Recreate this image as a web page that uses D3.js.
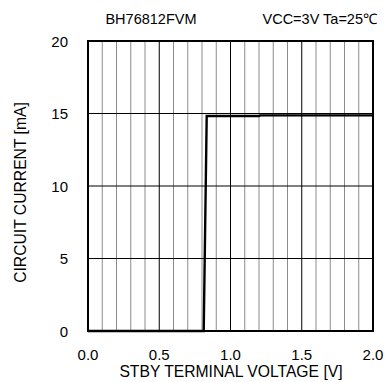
<!DOCTYPE html>
<html>
<head>
<meta charset="utf-8" />
<title>BH76812FVM</title>
<script src="https://d3js.org/d3.v7.min.js"></script>
<style>
  body { margin: 0; background: #fff; }
  text { font-family: "Liberation Sans", Arial, sans-serif; fill: #000; }
</style>
</head>
<body>
<svg id="mysvg" width="387" height="382"></svg>
<script>
// readings
var voltage = [0.0, 0.812, 0.833, 1.2, 1.21, 2.0];
var current = [0.0, 0.0, 14.83, 14.83, 14.87, 14.87];
var xTicks = [0.0, 0.5, 1.0, 1.5, 2.0];
var yTicks = [0, 5, 10, 15, 20];

var svg = d3.select("#mysvg");
var x = d3.scaleLinear().domain([0, 2]).range([88, 373]);
var y = d3.scaleLinear().domain([0, 20]).range([331, 41]);

// minor grid every 0.1V
var minor = d3.range(1, 20).map(function(i){ return i / 10; });
svg.selectAll("line.minor").data(minor).enter().append("line")
  .attr("x1", function(d){ return x(d); })
  .attr("x2", function(d){ return x(d); })
  .attr("y1", y(0)).attr("y2", y(20))
  .attr("stroke", function(d){ return Math.abs(d * 2 - Math.round(d * 2)) < 1e-6 ? "#000" : "#8c8c8c"; })
  .attr("stroke-width", 1);

svg.selectAll("line.hgrid").data([5, 10, 15]).enter().append("line")
  .attr("x1", x(0)).attr("x2", x(2))
  .attr("y1", function(d){ return y(d); })
  .attr("y2", function(d){ return y(d); })
  .attr("stroke", "#000").attr("stroke-width", 1);

// data line
var line = d3.line().x(function(d){ return x(d[0]); }).y(function(d){ return y(d[1]); });
svg.append("path")
  .datum(d3.zip(voltage, current))
  .attr("d", line)
  .attr("fill", "none").attr("stroke", "#000").attr("stroke-width", 2.4);

// frame
svg.append("rect")
  .attr("x", x(0)).attr("y", y(20))
  .attr("width", x(2) - x(0)).attr("height", y(0) - y(20))
  .attr("fill", "none").attr("stroke", "#000").attr("stroke-width", 2);

// tick labels
svg.selectAll("text.xt").data(xTicks).enter().append("text")
  .attr("x", function(d){ return x(d); })
  .attr("y", 360)
  .attr("text-anchor", "middle").attr("font-size", 15)
  .text(function(d){ return d.toFixed(1); });

svg.selectAll("text.yt").data(yTicks).enter().append("text")
  .attr("x", 68)
  .attr("y", function(d){ return y(d) + 5.5; })
  .attr("text-anchor", "end").attr("font-size", 15)
  .text(function(d){ return d; });

// labels
svg.append("text").attr("x", 231).attr("y", 377)
  .attr("text-anchor", "middle").attr("font-size", 15.7)
  .text("STBY TERMINAL VOLTAGE [V]");

svg.append("text")
  .attr("transform", "translate(25.5,192.5) rotate(-90)")
  .attr("text-anchor", "middle").attr("font-size", 15.7)
  .text("CIRCUIT CURRENT [mA]");

svg.append("text").attr("x", 151).attr("y", 24)
  .attr("text-anchor", "middle").attr("font-size", 14.5)
  .text("BH76812FVM");

svg.append("text").attr("x", 377).attr("y", 24)
  .attr("text-anchor", "end").attr("font-size", 14.5)
  .text("VCC=3V Ta=25\u2103");
</script>
</body>
</html>
